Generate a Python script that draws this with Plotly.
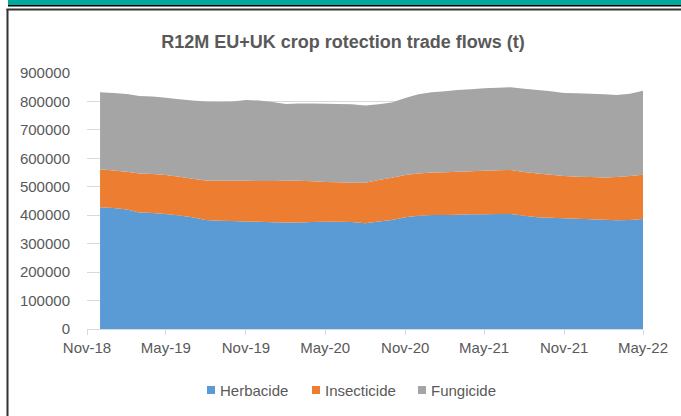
import plotly.graph_objects as go
import pandas as pd

# Monthly R12M values (tonnes), Dec-18 .. May-22
months = pd.date_range("2018-12-01", "2022-05-01", freq="MS")
herbacide = [428, 425, 420, 410, 408, 404, 399, 393, 383, 381, 380, 378, 377, 375,
             374, 374, 376, 377, 377, 376, 372, 378, 383, 393, 398, 401, 401, 402,
             403, 403, 404, 404, 398, 393, 391, 389, 388, 386, 384, 382, 383, 387]
insecticide = [134, 132, 133, 137, 137, 137, 136, 135, 139, 140, 141, 143, 143, 145,
               147, 147, 143, 140, 139, 138, 142, 146, 149, 148, 149, 149, 150, 151,
               152, 153, 154, 155, 154, 154, 151, 149, 147, 148, 149, 152, 155, 155]
fungicide = [270, 273, 273, 272, 272, 272, 273, 275, 278, 278, 279, 284, 283, 278,
             270, 272, 274, 275, 275, 276, 272, 266, 264, 271, 278, 282, 285, 287,
             288, 290, 290, 291, 293, 293, 294, 292, 294, 293, 292, 289, 289, 296]
herbacide = [v * 1000 for v in herbacide]
insecticide = [v * 1000 for v in insecticide]
fungicide = [v * 1000 for v in fungicide]

series_names = ["Herbacide", "Insecticide", "Fungicide"]
colors = ["#5B9BD5", "#ED7D31", "#A5A5A5"]
title = "R12M EU+UK crop rotection trade flows (t)"

W, H = 681, 416
L, R, T, B = 87, 38, 73, 87
PW, PH = W - L - R, H - T - B

def px(x):
    return (x - L) / PW

def py(y):
    return (H - B - y) / PH

fig = go.Figure()
for name, vals, c in zip(series_names, [herbacide, insecticide, fungicide], colors):
    fig.add_trace(go.Scatter(
        x=months, y=vals, name=name, stackgroup="one", mode="none",
        fillcolor=c, line=dict(width=0), showlegend=False,
        hoverinfo="x+y+name"))

text_color = "#595959"
font = "Liberation Sans, Arial, sans-serif"

fig.update_layout(
    width=W, height=H,
    margin=dict(l=L, r=R, t=T, b=B, pad=0),
    paper_bgcolor="white", plot_bgcolor="white",
    font=dict(family=font, size=15, color=text_color),
    title=dict(text="<b>" + title + "</b>", x=px(343), xanchor="center",
               xref="paper", y=1 - 42 / H, yanchor="middle",
               font=dict(size=18, color=text_color, family=font)),
    showlegend=False,
    xaxis=dict(type="date", range=["2018-11-01", "2022-05-01"],
               tick0="2018-11-01", dtick="M6", tickformat="%b-%y",
               showgrid=False, showline=True, linecolor="#D9D9D9", linewidth=1,
               ticks="outside", ticklen=5, tickcolor="#D9D9D9",
               tickfont=dict(size=15, color=text_color), zeroline=False),
    yaxis=dict(range=[0, 900000], dtick=100000, tickformat="d",
               showgrid=True, gridcolor="#D9D9D9", gridwidth=1,
               showline=False, zeroline=False, ticks="",
               ticklabelstandoff=16,
               tickfont=dict(size=15, color=text_color)),
)

shapes = [
    dict(type="rect", xref="paper", yref="paper", x0=px(8), x1=px(681), y0=py(0), y1=py(5),
         fillcolor="#00A99D", line=dict(width=0), layer="above"),
    dict(type="rect", xref="paper", yref="paper", x0=px(8), x1=px(681), y0=py(5), y1=py(6.5),
         fillcolor="#000000", line=dict(width=0), layer="above"),
    dict(type="line", xref="paper", yref="paper", x0=px(7.5), x1=px(7.5), y0=py(9), y1=py(420),
         line=dict(color="#333333", width=2), layer="above"),
    dict(type="line", xref="paper", yref="paper", x0=px(6.5), x1=px(690), y0=py(9.5), y1=py(9.5),
         line=dict(color="#333333", width=2), layer="above"),
]

# Legend (square swatch + label) laid out like the original
legend_left = [207, 312, 418]
annotations = []
for name, c, lx in zip(series_names, colors, legend_left):
    shapes.append(dict(type="rect", xref="paper", yref="paper",
                       x0=px(lx), x1=px(lx + 8), y0=py(394), y1=py(386),
                       fillcolor=c, line=dict(width=0)))
    annotations.append(dict(text=name, xref="paper", yref="paper",
                            x=px(lx + 11), y=py(390), xanchor="left", yanchor="middle",
                            showarrow=False, font=dict(size=15, color=text_color)))
fig.update_layout(shapes=shapes, annotations=annotations)

fig.write_html("out.html")
